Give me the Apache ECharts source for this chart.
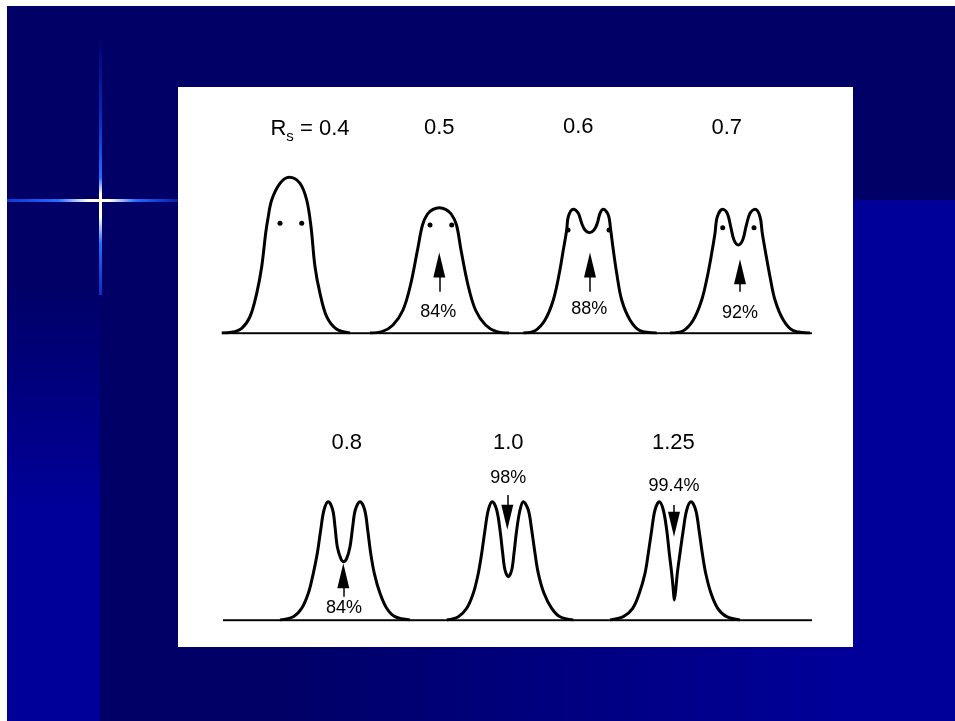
<!DOCTYPE html>
<html>
<head>
<meta charset="utf-8">
<script src="https://cdn.jsdelivr.net/npm/echarts@6/dist/echarts.min.js"></script>
<style>
html, body { margin: 0; padding: 0; background: #ffffff; }
#main { width: 955px; height: 721px; }
</style>
</head>
<body>
<div id="main"></div>
<script>
// 峰形数据：[时间, 信号]，上排与下排各自以基线为 0
var peak04 = [[43.7,0],[53.7,0.7],[63.7,4.7],[72,16.3],[78.7,39.7],[83.7,66.3],[87.7,100],[89.7,113],[93.7,133],[102,149.7],[111.3,155.7],[122,149.7],[128.7,133],[133,106.3],[137,66.3],[142,39.7],[148.7,16.3],[158.7,3.7],[172,0]];
var peak05 = [[192,0],[204,1.3],[215,8],[225,23],[232.5,48],[239.5,83],[244.5,108],[249.5,119],[255,123.6],[261.3,125.3],[267.6,123.6],[273.2,119],[278.5,108],[283,83],[290,48],[297.5,23],[307.5,8],[318.7,1.3],[331,0]];
var peak06 = [[345.3,0],[357,2.3],[367,13],[375.3,33],[381.3,59.7],[385.3,83],[388.7,103],[390.3,116.3],[395.3,123.7],[400.3,119.7],[403.7,109.7],[407,103],[411.3,100.3],[416,103],[419.3,109.7],[422,119.7],[425.3,123.7],[430.3,118],[432.7,103],[435.3,83],[438.7,59.7],[443.7,33],[452,13],[462,2.3],[478.7,0]];
var peak07 = [[492,0],[505.3,2.3],[515.3,13],[523.7,33],[529.3,56.3],[533.7,79.7],[537,99.7],[539.3,116.3],[544.7,123.7],[549.3,119.7],[552.7,106.3],[556,93],[560.3,88],[564.7,93],[568,106.3],[572,119.7],[577,123.7],[582,116.3],[584.3,99.7],[587.7,79.7],[592,56.3],[597,33],[605.3,13],[615.3,2.3],[632,0]];
var peak08 = [[102,0],[115.3,3.3],[123.7,11.7],[130.3,26.7],[135.3,46.7],[139.3,66.7],[142.7,90],[146,110],[150.3,118.3],[154.7,110],[157,93.3],[159.3,73.3],[162.7,61.7],[165.3,58.3],[168.7,61.7],[172,73.3],[174.7,93.3],[177.3,110],[182,118.3],[186.7,110],[189.7,90],[192.7,66.7],[196.3,46.7],[202,26.7],[208.7,11.7],[217,3.3],[232,0]];
var peak10 = [[268.7,0],[280.3,3.3],[288.7,11.7],[295.3,26.7],[300.3,46.7],[303.7,66.7],[307,90],[310.3,110],[314.3,118.3],[318.7,110],[322,90],[324.7,66.7],[327,50],[330.3,43.3],[333.7,50],[336,66.7],[338.7,90],[342,110],[345.3,118.3],[350.3,110],[353.7,90],[357,66.7],[360.3,46.7],[366,26.7],[373.7,11.7],[382,3.3],[395.3,0]];
var peak125 = [[432,0],[445.3,3.3],[454.7,11.7],[461.3,26.7],[467,46.7],[470.3,66.7],[473.7,90],[477,110],[481.3,118.3],[485.3,110],[488.7,90],[491.3,66.7],[493.7,46.7],[495.3,30],[496.3,20],[497.7,30],[499.3,46.7],[502,66.7],[505.3,90],[508.7,110],[513,118.3],[517.7,110],[521,90],[524.3,66.7],[527.7,46.7],[533,26.7],[539.7,11.7],[548.7,3.3],[562,0]];

// 拐点标记
var dotsTop = [[102,109.7],[123.7,109.7],[252,108],[273.7,108],[390,103],[431,103],[544.7,105.3],[576,105.3]];

// 基线
var baseTop = [[44,0],[634,0]];
var baseBottom = [[45,0],[634,0]];

// 箭头：三角形中心、箭杆
var arrowUpTop = [[261.3,68],[412,68],[562,61.3]];
var arrowUpBottom = [[165.3,44.2]];
var arrowDownBottom = [[329.3,102.8],[496,95.8]];
var stemsTop = [[[261.3,41.3],[261.3,56]],[[412,41.3],[412,56]],[[562,41.3],[562,51]]];
var stemsBottom = [[[165.3,23.3],[165.3,33]],[[329.3,125],[329.3,113]],[[496,115],[496,107]]];

// 文字
var titlesTop = [[132,204,'R{sub|s} = 0.4'],[261.3,205,'0.5'],[400.3,206,'0.6'],[548.7,205,'0.7']];
var titlesBottom = [[168.7,176.7,'0.8'],[330.3,176.7,'1.0'],[495.3,176.7,'1.25']];
var pctTop = [[260.3,21.3,'84%'],[411.3,23.7,'88%'],[562,19.7,'92%']];
var pctBottom = [[166,12,'84%'],[330.3,141.7,'98%'],[496,134,'99.4%']];

var myChart = echarts.init(document.getElementById('main'));

function peakSeries(data, gi) {
    return {
        type: 'line',
        xAxisIndex: gi,
        yAxisIndex: gi,
        data: data,
        smooth: 0.35,
        symbol: 'none',
        lineStyle: { color: '#000000', width: 3, join: 'round' },
        z: 5,
        silent: true
    };
}

function textSeries(data, gi, size) {
    return {
        type: 'scatter',
        xAxisIndex: gi,
        yAxisIndex: gi,
        symbolSize: 0,
        data: data,
        silent: true,
        itemStyle: { opacity: 1 },
        label: {
            show: true,
            position: 'inside',
            formatter: function (p) { return p.value[2]; },
            color: '#000000',
            fontFamily: 'Liberation Sans',
            fontSize: size,
            rich: {
                sub: { fontSize: 15, fontFamily: 'Liberation Sans', color: '#000000', padding: [16, 0, 0, 0] }
            }
        },
        z: 6
    };
}

function arrowSeries(data, gi, rot) {
    return {
        type: 'scatter',
        xAxisIndex: gi,
        yAxisIndex: gi,
        symbol: 'triangle',
        symbolSize: [12, 25],
        symbolRotate: rot,
        itemStyle: { color: '#000000', opacity: 1 },
        data: data,
        silent: true,
        z: 6
    };
}

function linesSeries(data, gi, w) {
    return {
        type: 'lines',
        coordinateSystem: 'cartesian2d',
        xAxisIndex: gi,
        yAxisIndex: gi,
        data: data.map(function (d) { return { coords: d }; }),
        lineStyle: { color: '#000000', width: w, opacity: 1 },
        silent: true,
        z: 4
    };
}

var option = {
    backgroundColor: '#ffffff',
    animation: false,
    graphic: [
        { type: 'rect', shape: { x: 7, y: 6, width: 948, height: 715 }, style: { fill: '#000066' }, z: -10 },
        {
            type: 'rect', shape: { x: 100, y: 200, width: 855, height: 521 }, z: -9,
            style: { fill: new echarts.graphic.LinearGradient(0, 0, 1, 0, [
                { offset: 0, color: '#000066' }, { offset: 0.2, color: '#000066' }, { offset: 0.88, color: '#000099' }, { offset: 1, color: '#000099' }
            ]) }
        },
        {
            type: 'rect', shape: { x: 853, y: 200, width: 102, height: 521 }, z: -8,
            style: { fill: '#000099' }
        },
        {
            type: 'rect', shape: { x: 7, y: 200, width: 93, height: 521 }, z: -9,
            style: { fill: new echarts.graphic.LinearGradient(0, 0, 0, 1, [
                { offset: 0, color: '#000066' }, { offset: 0.15, color: '#000066' }, { offset: 0.6, color: '#000099' }, { offset: 1, color: '#000099' }
            ]) }
        },
        // 十字星光
        {
            type: 'rect', shape: { x: 7, y: 199, width: 171, height: 3 }, z: -7,
            style: { fill: new echarts.graphic.LinearGradient(0, 0, 1, 0, [
                { offset: 0, color: 'rgba(20,80,255,0.7)' }, { offset: 0.3, color: '#2a6cff' },
                { offset: 0.47, color: '#fffff0' }, { offset: 0.6, color: '#fffff0' },
                { offset: 0.75, color: '#2a6cff' }, { offset: 1, color: 'rgba(20,80,255,0.4)' }
            ]) }
        },
        {
            type: 'rect', shape: { x: 99, y: 35, width: 3, height: 260 }, z: -7,
            style: { fill: new echarts.graphic.LinearGradient(0, 0, 0, 1, [
                { offset: 0, color: 'rgba(20,80,255,0)' }, { offset: 0.3, color: 'rgba(20,80,255,0.5)' },
                { offset: 0.55, color: '#2a6cff' }, { offset: 0.61, color: '#fffff0' }, { offset: 0.7, color: '#fffff0' },
                { offset: 0.8, color: '#2a6cff' }, { offset: 1, color: 'rgba(20,80,255,0.6)' }
            ]) }
        },
        { type: 'rect', shape: { x: 178, y: 87, width: 675, height: 560 }, style: { fill: '#ffffff' }, z: -5 }
    ],
    grid: [
        { left: 178, top: 87, width: 675, height: 246 },
        { left: 178, top: 374, width: 675, height: 246 }
    ],
    xAxis: [
        { type: 'value', gridIndex: 0, min: 0, max: 675, show: false },
        { type: 'value', gridIndex: 1, min: 0, max: 675, show: false }
    ],
    yAxis: [
        { type: 'value', gridIndex: 0, min: 0, max: 246, show: false },
        { type: 'value', gridIndex: 1, min: 0, max: 246, show: false }
    ],
    series: [
        linesSeries([baseTop], 0, 2.5),
        linesSeries([baseBottom], 1, 2.5),
        peakSeries(peak04, 0),
        peakSeries(peak05, 0),
        peakSeries(peak06, 0),
        peakSeries(peak07, 0),
        peakSeries(peak08, 1),
        peakSeries(peak10, 1),
        peakSeries(peak125, 1),
        {
            type: 'scatter', xAxisIndex: 0, yAxisIndex: 0, symbol: 'circle', symbolSize: 5,
            itemStyle: { color: '#000000', opacity: 1 }, data: dotsTop, silent: true, z: 6
        },
        arrowSeries(arrowUpTop, 0, 0),
        arrowSeries(arrowUpBottom, 1, 0),
        arrowSeries(arrowDownBottom, 1, 180),
        linesSeries(stemsTop, 0, 1.5),
        linesSeries(stemsBottom, 1, 1.5),
        textSeries(titlesTop, 0, 22),
        textSeries(titlesBottom, 1, 22),
        textSeries(pctTop, 0, 18),
        textSeries(pctBottom, 1, 18)
    ]
};

myChart.setOption(option);
</script>
</body>
</html>
